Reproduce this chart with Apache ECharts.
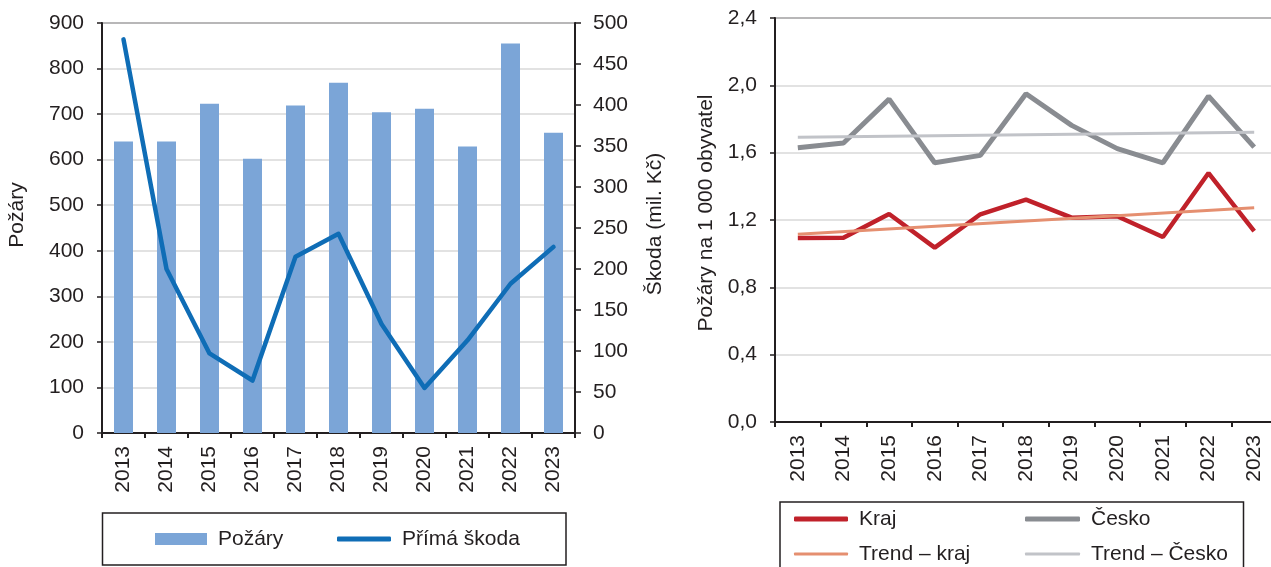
<!DOCTYPE html>
<html>
<head>
<meta charset="utf-8">
<script src="https://cdn.jsdelivr.net/npm/echarts@6/dist/echarts.min.js"></script>
<style>
  html, body { margin: 0; padding: 0; background: #fff; overflow: hidden; }
  #chart { width: 1271px; height: 567px; }
</style>
</head>
<body>
<div id="chart"></div>
<script>
// roky
const years = ['2013', '2014', '2015', '2016', '2017', '2018', '2019', '2020', '2021', '2022', '2023'];
// levy graf
const pozary = [640, 640, 723, 602, 719, 769, 704, 712, 629, 855, 659];
const skoda = [480, 200, 97, 64, 215, 243, 133, 55, 113, 182, 227];
// pravy graf - pozary na 1 000 obyvatel
const kraj = [1.093, 1.095, 1.236, 1.036, 1.234, 1.321, 1.214, 1.222, 1.099, 1.479, 1.134];
const cesko = [1.629, 1.657, 1.918, 1.540, 1.584, 1.950, 1.762, 1.624, 1.540, 1.936, 1.633];
// trendy - jen koncove body, spojene rovnou carou
const trendKraj = [1.116, '-', '-', '-', '-', '-', '-', '-', '-', '-', 1.273];
const trendCesko = [1.691, '-', '-', '-', '-', '-', '-', '-', '-', '-', 1.722];

const FONT = "'Liberation Sans', Arial, sans-serif";
const TXT = '#231f20';
const AX = '#231f20';

const chart = echarts.init(document.getElementById('chart'));

const baseLabel = { color: TXT, fontSize: 21, fontFamily: FONT };
const legendText = { color: TXT, fontSize: 21, fontFamily: FONT, lineHeight: 22, padding: [0, 0, 0, 6] };

function catAxis(gridIndex) {
  return {
    type: 'category',
    gridIndex: gridIndex,
    data: years,
    axisLine: { lineStyle: { color: AX, width: 2 } },
    axisTick: { show: true, length: 5, lineStyle: { color: AX, width: 2 } },
    axisLabel: Object.assign({ rotate: 90, margin: 13, interval: 0 }, baseLabel)
  };
}

function lineLegend(name, left, top, width, h) {
  return {
    data: [name], left: left, top: top, padding: 0,
    icon: 'roundRect', itemWidth: width, itemHeight: h,
    textStyle: legendText
  };
}

chart.setOption({
  animation: false,
  backgroundColor: '#fff',
  textStyle: { fontFamily: FONT },
  grid: [
    { left: 102, right: 696, top: 23, bottom: 134, outerBoundsMode: 'none',
      show: true, borderColor: AX, borderWidth: 1.5 },
    { left: 775, width: 502, top: 18, bottom: 145, outerBoundsMode: 'none',
      show: true, borderColor: AX, borderWidth: 1.5 }
  ],
  xAxis: [catAxis(0), catAxis(1)],
  yAxis: [
    {
      type: 'value', gridIndex: 0, min: 0, max: 900, interval: 100,
      name: 'Požáry', nameLocation: 'middle', nameGap: 74, nameRotate: 90,
      nameTextStyle: Object.assign({ padding: [0, 0, 0, 26] }, baseLabel),
      axisLine: { show: true, lineStyle: { color: AX, width: 2 } },
      axisTick: { show: true, length: 5, lineStyle: { color: AX, width: 1.5 } },
      axisLabel: Object.assign({ margin: 18 }, baseLabel),
      splitLine: { lineStyle: { color: '#d9d9d9', width: 1.5 } }
    },
    {
      type: 'value', gridIndex: 0, position: 'right', min: 0, max: 500, interval: 50,
      name: 'Škoda (mil. Kč)', nameLocation: 'middle', nameGap: 70, nameRotate: 90,
      nameTextStyle: Object.assign({ padding: [0, 0, 0, 8] }, baseLabel),
      axisLine: { show: true, lineStyle: { color: AX, width: 2 } },
      axisTick: { show: true, length: 6, lineStyle: { color: AX, width: 1.5 } },
      axisLabel: Object.assign({ margin: 18 }, baseLabel),
      splitLine: { show: false }
    },
    {
      type: 'value', gridIndex: 1, min: 0, max: 2.4, interval: 0.4,
      name: 'Požáry na 1 000 obyvatel', nameLocation: 'middle', nameGap: 58, nameRotate: 90,
      nameTextStyle: Object.assign({ padding: [0, 0, 0, 14] }, baseLabel),
      axisLine: { show: true, lineStyle: { color: AX, width: 2 } },
      axisTick: { show: true, length: 5, lineStyle: { color: AX, width: 1.5 } },
      axisLabel: Object.assign({ margin: 18, formatter: v => v.toFixed(1).replace('.', ',') }, baseLabel),
      splitLine: { lineStyle: { color: '#d9d9d9', width: 1.5 } }
    }
  ],
  legend: [
    { data: ['Požáry'], left: 155, top: 528, padding: 0, icon: 'rect', itemWidth: 52, itemHeight: 12, textStyle: legendText },
    lineLegend('Přímá škoda', 337, 528, 54, 5),
    lineLegend('Kraj', 794, 508, 54, 5),
    lineLegend('Česko', 1025, 508, 55, 5),
    lineLegend('Trend – kraj', 794, 543, 54, 3),
    lineLegend('Trend – Česko', 1025, 543, 55, 3)
  ],
  graphic: [
    { type: 'rect', shape: { x: 102.5, y: 513, width: 463.5, height: 52 }, style: { fill: 'none', stroke: AX, lineWidth: 1.5 }, z: -1 },
    { type: 'rect', shape: { x: 780, y: 502, width: 463.5, height: 90 }, style: { fill: 'none', stroke: AX, lineWidth: 1.5 }, z: -1 }
  ],
  series: [
    {
      name: 'Požáry', type: 'bar', xAxisIndex: 0, yAxisIndex: 0,
      data: pozary, barWidth: 19, itemStyle: { color: '#7ba5d7' }
    },
    {
      name: 'Přímá škoda', type: 'line', xAxisIndex: 0, yAxisIndex: 1,
      data: skoda, symbol: 'none',
      lineStyle: { color: '#0f6db6', width: 4.5, join: 'round', cap: 'round' },
      itemStyle: { color: '#0f6db6' }
    },
    {
      name: 'Kraj', type: 'line', xAxisIndex: 1, yAxisIndex: 2,
      data: kraj, symbol: 'none',
      lineStyle: { color: '#c0212a', width: 4.5 }, itemStyle: { color: '#c0212a' }
    },
    {
      name: 'Česko', type: 'line', xAxisIndex: 1, yAxisIndex: 2,
      data: cesko, symbol: 'none',
      lineStyle: { color: '#898c91', width: 5 }, itemStyle: { color: '#898c91' }
    },
    {
      name: 'Trend – kraj', type: 'line', xAxisIndex: 1, yAxisIndex: 2,
      data: trendKraj, connectNulls: true, symbol: 'none',
      lineStyle: { color: '#e58f70', width: 3 }, itemStyle: { color: '#e58f70' }
    },
    {
      name: 'Trend – Česko', type: 'line', xAxisIndex: 1, yAxisIndex: 2,
      data: trendCesko, connectNulls: true, symbol: 'none',
      lineStyle: { color: '#c1c3c8', width: 3 }, itemStyle: { color: '#c1c3c8' }
    }
  ]
});
</script>
</body>
</html>
